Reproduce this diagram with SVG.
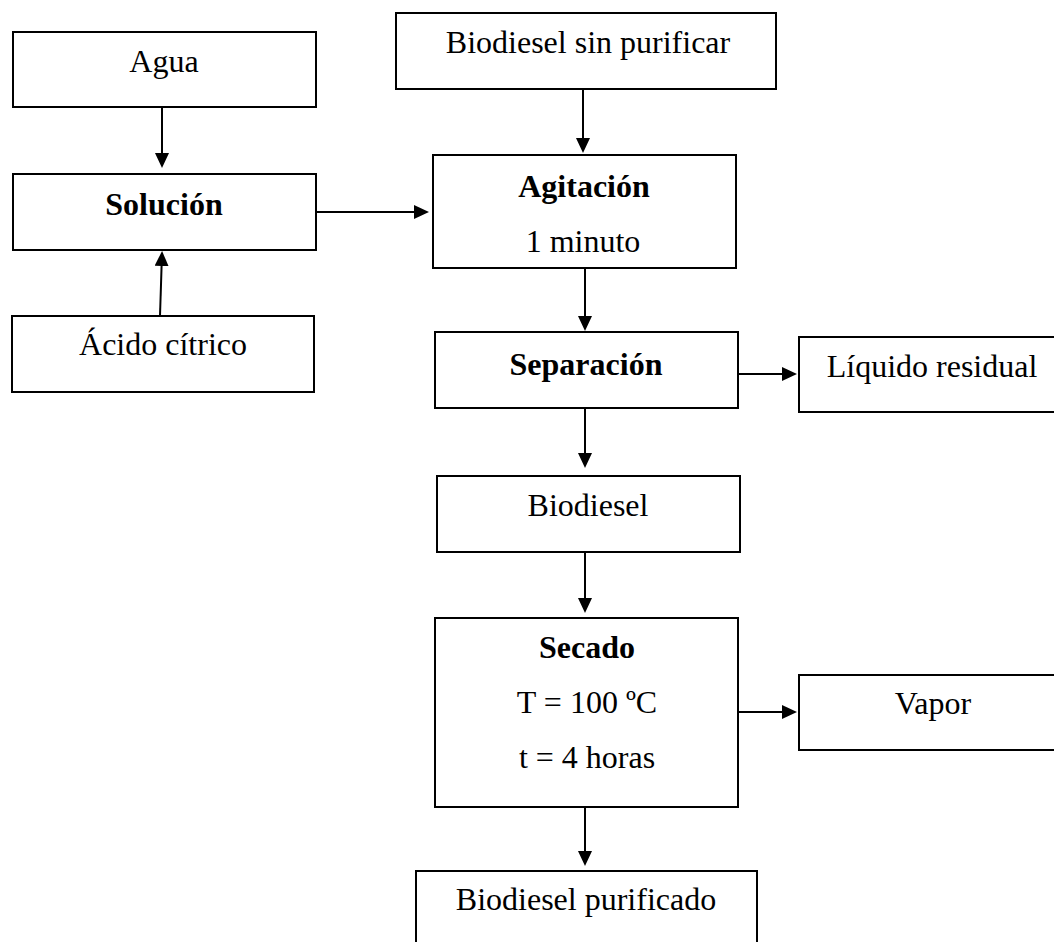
<svg xmlns="http://www.w3.org/2000/svg" width="1054" height="942" viewBox="0 0 1054 942">
<defs>
<style>
.box{fill:#fff;stroke:#000;stroke-width:2}
.t{font-family:"Liberation Serif","Times New Roman",serif;font-size:32px;fill:#000;text-anchor:middle}
.b{font-weight:bold}
.c{fill:none;stroke:#000;stroke-width:2}
</style>
<marker id="ah" viewBox="0 0 15 14" refX="13" refY="7" markerWidth="15" markerHeight="14" markerUnits="userSpaceOnUse" orient="auto">
<path d="M0,0 L15,7 L0,14 Z" fill="#000"/>
</marker>
</defs>
<rect width="1054" height="942" fill="#fff"/>
<g id="connectors">
<line class="c" x1="162" y1="107" x2="162" y2="166" marker-end="url(#ah)"/>
<line class="c" x1="160" y1="316" x2="162" y2="253" marker-end="url(#ah)"/>
<line class="c" x1="316" y1="212" x2="427" y2="212" marker-end="url(#ah)"/>
<line class="c" x1="583" y1="89" x2="583" y2="151" marker-end="url(#ah)"/>
<line class="c" x1="585" y1="268" x2="585" y2="329" marker-end="url(#ah)"/>
<line class="c" x1="585" y1="408" x2="585" y2="466" marker-end="url(#ah)"/>
<line class="c" x1="738" y1="374" x2="795" y2="374" marker-end="url(#ah)"/>
<line class="c" x1="585" y1="552" x2="585" y2="611" marker-end="url(#ah)"/>
<line class="c" x1="738" y1="712" x2="795" y2="712" marker-end="url(#ah)"/>
<line class="c" x1="585" y1="807" x2="585" y2="864" marker-end="url(#ah)"/>
</g>
<g id="agua"><rect class="box" x="13" y="32" width="303" height="75"/><text class="t" x="164" y="72">Agua</text></g>
<g id="solucion"><rect class="box" x="13" y="174" width="303" height="76"/><text class="t b" x="164" y="215">Solución</text></g>
<g id="acido"><rect class="box" x="12" y="316" width="302" height="76"/><text class="t" x="163" y="355">Ácido cítrico</text></g>
<g id="biodiesel-sin-purificar"><rect class="box" x="396" y="13" width="380" height="76"/><text class="t" x="588" y="53">Biodiesel sin purificar</text></g>
<g id="agitacion"><rect class="box" x="433" y="155" width="303" height="113"/><text class="t b" x="584" y="197">Agitación</text><text class="t" x="583" y="252">1 minuto</text></g>
<g id="separacion"><rect class="box" x="435" y="332" width="303" height="76"/><text class="t b" x="586" y="375">Separación</text></g>
<g id="liquido-residual"><rect class="box" x="799" y="337" width="270" height="75"/><text class="t" x="932" y="377">Líquido residual</text></g>
<g id="biodiesel"><rect class="box" x="437" y="476" width="303" height="76"/><text class="t" x="588" y="516">Biodiesel</text></g>
<g id="secado"><rect class="box" x="435" y="618" width="303" height="189"/><text class="t b" x="587" y="658">Secado</text><text class="t" x="587" y="713">T = 100 ºC</text><text class="t" x="587" y="768">t = 4 horas</text></g>
<g id="vapor"><rect class="box" x="799" y="675" width="270" height="75"/><text class="t" x="933" y="714">Vapor</text></g>
<g id="biodiesel-purificado"><rect class="box" x="416" y="871" width="341" height="90"/><text class="t" x="586" y="910">Biodiesel purificado</text></g>
</svg>
